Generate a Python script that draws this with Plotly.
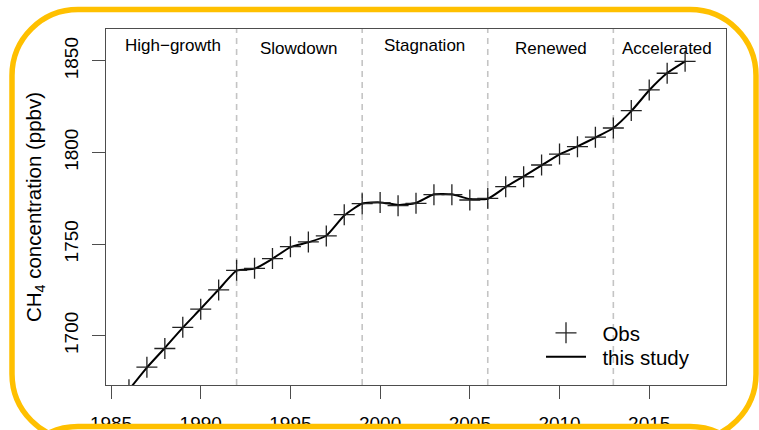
import plotly.graph_objects as go

# ---------------- data ----------------
years = list(range(1986, 2018))
obs = [1670.5, 1682.8, 1693.0, 1704.6, 1714.5, 1725.0, 1735.7, 1736.8, 1742.1, 1748.6,
       1751.2, 1754.5, 1766.1, 1772.1, 1772.7, 1771.0, 1772.3, 1777.0, 1777.0, 1774.1,
       1775.0, 1781.4, 1786.8, 1793.2, 1799.2, 1803.2, 1808.4, 1813.4, 1822.9, 1834.2,
       1843.3, 1849.8]
model = [1670.5, 1682.6, 1693.3, 1704.4, 1714.7, 1725.2, 1735.5, 1736.6, 1742.0, 1748.4,
         1751.0, 1754.6, 1765.6, 1772.2, 1772.8, 1771.4, 1772.5, 1777.2, 1777.2, 1774.6,
         1774.8, 1781.2, 1787.0, 1793.0, 1799.0, 1803.4, 1808.2, 1813.4, 1822.6, 1834.0,
         1843.4, 1849.8]
period_breaks = [1992, 1999, 2006, 2013]
period_names = ["High\u2212growth", "Slowdown", "Stagnation", "Renewed", "Accelerated"]
period_centers = [1988.45, 1995.5, 2002.5, 2009.5, 2016.0]
x_ticks = [1985, 1990, 1995, 2000, 2005, 2010, 2015]
y_ticks = [1700, 1750, 1800, 1850]

# ---------------- geometry ----------------
W, H = 759, 430
ML, MR, MT, MB = 106, 33, 29, 45
PW, PH = W - ML - MR, H - MT - MB
XR = [1984.72, 2019.28]
YR = [1673.08, 1867.47]
FONT = "Liberation Sans, Arial, Helvetica, sans-serif"
ORANGE = "#FFC000"
AXC = "#4d4d4d"
NB = "\u00a0"


def px(xp):
    return (xp - ML) / PW


def py(yp):
    return (H - MB - yp) / PH


def rrect(x0, y0, x1, y1, r):
    k = 0.5523 * r
    def P(x, y):
        return f"{px(x):.5f},{py(y):.5f}"
    pts = ["M" + P(x0 + r, y0),
           "L" + P(x1 - r, y0),
           "C" + P(x1 - r + k, y0) + " " + P(x1, y0 + r - k) + " " + P(x1, y0 + r),
           "L" + P(x1, y1 - r),
           "C" + P(x1, y1 - r + k) + " " + P(x1 - r + k, y1) + " " + P(x1 - r, y1),
           "L" + P(x0 + r, y1),
           "C" + P(x0 + r - k, y1) + " " + P(x0, y1 - r + k) + " " + P(x0, y1 - r),
           "L" + P(x0, y0 + r),
           "C" + P(x0, y0 + r - k) + " " + P(x0 + r - k, y0) + " " + P(x0 + r, y0),
           "Z"]
    return " ".join(pts)


fig = go.Figure()

fig.add_trace(go.Scatter(
    x=years, y=model, mode="lines", name=NB * 2 + "this study", legend="legend2",
    line=dict(color="black", width=2, shape="spline", smoothing=0.5),
))
fig.add_trace(go.Scatter(
    x=years, y=obs, mode="markers", name=NB * 2 + "Obs", legend="legend",
    marker=dict(symbol="cross-thin", size=15, color="#222222",
                line=dict(color="#222222", width=1.3)),
))

shapes = []
for b in period_breaks:
    shapes.append(dict(type="line", xref="x", yref="paper", x0=b, x1=b, y0=0, y1=1,
                       line=dict(color="#c4c4c4", width=1.6, dash="6px,5px"), layer="below"))

# orange panel boxes
shapes.append(dict(type="path", xref="paper", yref="paper", layer="above",
                   path=rrect(12, 9.5, 756, 440, 66),
                   line=dict(color=ORANGE, width=5.5), fillcolor="rgba(0,0,0,0)"))
shapes.append(dict(type="path", xref="paper", yref="paper", layer="above",
                   path=rrect(12, 426.5, 756, 700, 66),
                   line=dict(color=ORANGE, width=5.5), fillcolor="white"))

annotations = []
for name, c in zip(period_names, period_centers):
    yoff = 1858.2 if name in ("High\u2212growth", "Stagnation") else 1857.0
    annotations.append(dict(x=c, y=yoff, xref="x", yref="y", text=name, showarrow=False,
                            font=dict(size=17, color="black", family=FONT),
                            xanchor="center", yanchor="middle"))

leg_common = dict(xanchor="left", yanchor="middle", bgcolor="rgba(0,0,0,0)", borderwidth=0,
                  font=dict(size=20.5, family=FONT, color="black"), itemwidth=40)

fig.update_layout(
    width=W, height=H,
    margin=dict(l=ML, r=MR, t=MT, b=MB, pad=0, autoexpand=False),
    paper_bgcolor="white", plot_bgcolor="white",
    font=dict(family=FONT, color="black"),
    shapes=shapes, annotations=annotations,
    showlegend=True,
    legend=dict(x=px(541), y=py(333), **leg_common),
    legend2=dict(x=px(541), y=py(357), **leg_common),
    xaxis=dict(
        range=XR, tickvals=x_ticks, ticktext=[str(t) for t in x_ticks],
        showgrid=False, zeroline=False, showline=True, mirror=True, automargin=False,
        linecolor=AXC, linewidth=1.2, ticks="outside", ticklen=13, tickwidth=1.2,
        tickcolor=AXC, tickfont=dict(size=19, family=FONT, color="black"),
        ticklabelstandoff=8,
    ),
    yaxis=dict(
        range=YR, tickvals=y_ticks, ticktext=[str(t) for t in y_ticks],
        showgrid=False, zeroline=False, showline=True, mirror=True, automargin=False,
        linecolor=AXC, linewidth=1.2, ticks="outside", ticklen=13, tickwidth=1.2,
        tickcolor=AXC, tickangle=-90, tickfont=dict(size=19, family=FONT, color="black"),
        ticklabelstandoff=6,
        title=dict(text="CH<sub>4</sub> concentration (ppbv)",
                   font=dict(size=20.5, family=FONT, color="black"), standoff=14),
    ),
)

fig.write_html("out.html")
